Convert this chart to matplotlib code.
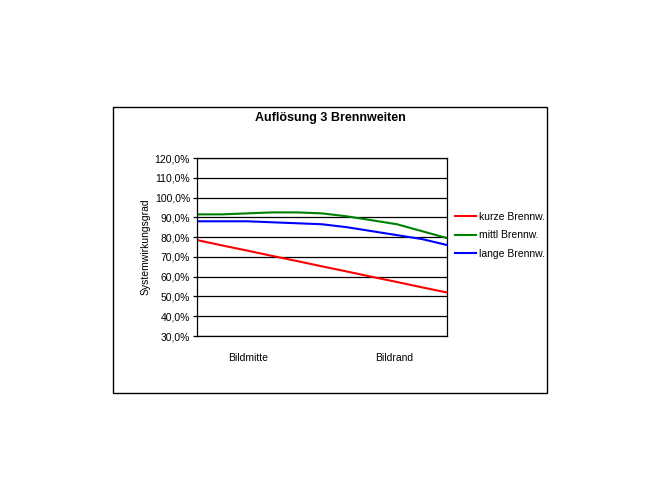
import matplotlib
matplotlib.use("Agg")
import matplotlib.pyplot as plt
from matplotlib.patches import Rectangle
from matplotlib.ticker import FuncFormatter

plt.rcParams['font.family'] = ['Liberation Sans', 'DejaVu Sans']

# Data (11 points across the image, from centre to edge)
positions = list(range(11))
kurze = [78.5, 75.8, 73.2, 70.5, 67.9, 65.2, 62.6, 59.9, 57.3, 54.6, 52.0]
mittl = [91.5, 91.5, 92.0, 92.5, 92.5, 92.0, 90.5, 88.5, 86.5, 83.0, 79.5]
lange = [88.0, 88.0, 88.0, 87.5, 87.0, 86.5, 85.0, 83.0, 81.0, 79.0, 76.0]
series_names = ["kurze Brennw.", "mittl Brennw.", "lange Brennw."]
series_colors = ["#ff0000", "#008000", "#0000ff"]
xlabel_pos = [2.05, 7.9]
xlabel_text = ["Bildmitte", "Bildrand"]
yticks = [30, 40, 50, 60, 70, 80, 90, 100, 110, 120]

W, H = 660, 495
fig = plt.figure(figsize=(6.6, 4.95), dpi=100)
fig.patch.set_facecolor("white")

# chart border
fig.add_artist(Rectangle((113 / W, 1 - 393 / H), (547 - 113) / W, (393 - 107) / H,
                         transform=fig.transFigure, fill=False, edgecolor="black", lw=1.0))

ax = fig.add_axes([197 / W, 1 - 336 / H, (447 - 197) / W, (336 - 158) / H])
for vals, name, col in zip([kurze, mittl, lange], series_names, series_colors):
    ax.plot(positions, vals, color=col, lw=1.5, label=name)

ax.set_xlim(0, 10)
ax.set_ylim(30, 120)
ax.set_yticks(yticks)
ax.yaxis.set_major_formatter(FuncFormatter(lambda v, p: f"{v:.1f}".replace(".", ",") + "%"))
ax.grid(axis="y", color="black", lw=0.9)
ax.set_axisbelow(True)
for s in ax.spines.values():
    s.set_color("black")
    s.set_linewidth(0.9)
ax.tick_params(axis="y", length=3, width=0.9, labelsize=7.5, pad=2)
ax.set_xticks(xlabel_pos)
ax.set_xticklabels(xlabel_text, fontsize=7.5)
ax.tick_params(axis="x", length=0, pad=12)
ax.set_ylabel("Systemwirkungsgrad", fontsize=7.5, labelpad=3)

fig.text(330 / W, 1 - 118 / H, "Auflösung 3 Brennweiten", ha="center", va="center",
         fontsize=9, fontweight="bold")

handles, labels = ax.get_legend_handles_labels()
fig.legend(handles, labels, loc="upper left", bbox_to_anchor=(453 / W, 1 - 210 / H),
           frameon=False, fontsize=7.5, handlelength=2.0, handletextpad=0.3,
           labelspacing=0.8, borderpad=0.2, borderaxespad=0)

fig.savefig("out.png", dpi=100)
